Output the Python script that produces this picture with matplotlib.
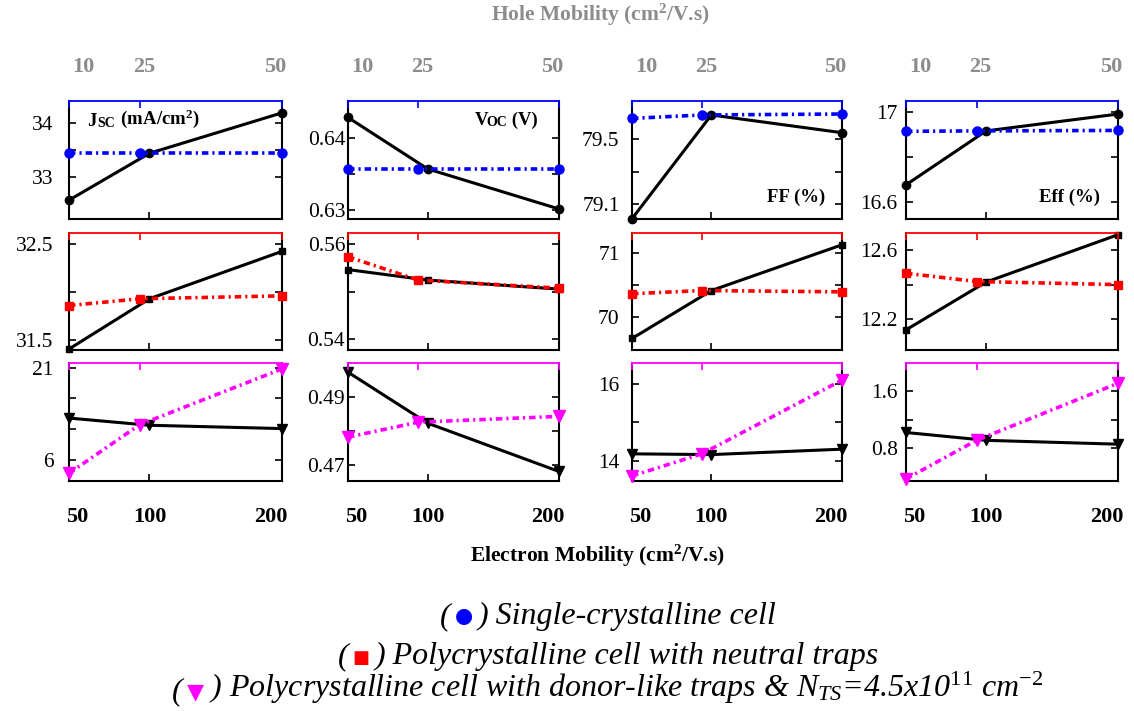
import numpy as np
import matplotlib
matplotlib.use('Agg')
import matplotlib.pyplot as plt
from matplotlib.text import Annotation
from matplotlib.transforms import ScaledTranslation

plt.rcParams['font.family'] = ['Liberation Serif', 'DejaVu Sans']
plt.rcParams['mathtext.fontset'] = 'custom'
plt.rcParams['mathtext.rm'] = 'Liberation Serif'
plt.rcParams['mathtext.it'] = 'Liberation Serif:italic'
plt.rcParams['mathtext.bf'] = 'Liberation Serif:bold'

# mobilities (cm2/V.s): electron on the bottom axis, hole on the top axis
electron_mu = [50, 100, 200]
hole_mu = [10, 25, 50]

# rows: single-crystalline, neutral traps, donor-like traps
# *_e : electron mobility varied (black), *_h : hole mobility varied (colored)
jsc_e = [[32.57, 33.44, 34.19], [31.41, 31.93, 32.42], [12.82, 11.65, 11.11]]
jsc_h = [[33.45, 33.45, 33.45], [31.86, 31.93, 31.96], [3.85, 11.76, 20.8]]
voc_e = [[0.6429, 0.6357, 0.6301], [0.5546, 0.5524, 0.5505], [0.4974, 0.4824, 0.4682]]
voc_h = [[0.6357, 0.6357, 0.6357], [0.5573, 0.5524, 0.5507], [0.4783, 0.4827, 0.4844]]
ff_e = [[79.01, 79.648, 79.539], [69.66, 70.41, 71.125], [14.19, 14.17, 14.31]]
ff_h = [[79.627, 79.648, 79.654], [70.36, 70.41, 70.39], [13.62, 14.19, 16.09]]
eff_e = [[16.676, 16.916, 16.991], [12.137, 12.415, 12.69], [1.02, 0.91, 0.856]]
eff_h = [[16.914, 16.916, 16.918], [12.466, 12.418, 12.40], [0.37, 0.91, 1.71]]

# y ticks per row / column, '' = tick without label
yticks = [
    [[33, 33.5, 34], [0.63, 0.635, 0.64], [79.1, 79.3, 79.5], [16.6, 16.8, 17]],
    [[31.5, 32, 32.5], [0.54, 0.55, 0.56], [70, 70.5, 71], [12.2, 12.4, 12.6]],
    [[6, 11, 16, 21], [0.47, 0.48, 0.49], [14, 15, 16], [0.8, 1.2, 1.6]],
]
ylabels = [
    [['33', '', '34'], ['0.63', '', '0.64'], ['79.1', '', '79.5'], ['16.6', '', '17']],
    [['31.5', '', '32.5'], ['0.54', '', '0.56'], ['70', '', '71'], ['12.2', '', '12.6']],
    [['6', '', '', '21'], ['0.47', '', '0.49'], ['14', '', '16'], ['0.8', '', '1.6']],
]
ylims = [
    [(32.22, 34.41), (0.6287, 0.6452), (79.008, 79.734), (16.524, 17.049)],
    [(31.40, 32.61), (0.5377, 0.5623), (69.48, 71.31), (12.02, 12.70)],
    [(2.6, 21.76), (0.4654, 0.5001), (13.49, 16.53), (0.34, 1.994)],
]

W, H = 1134, 711
fig = plt.figure(figsize=(W / 100, H / 100), dpi=100)

col_x = [(69, 282), (348, 559), (632, 842), (906, 1118)]
row_y = [(101, 219), (233, 350), (363, 481)]
ypad = [11, 2, 9, 6]
colors = ['#0000ff', '#ff0000', '#ff00ff']
markers = ['o', 's', 'v']
msize = [6.5, 5.5, 8]
gray = '#8c8c8c'
dashdot = (0, (1.8, 1.1, 0.6, 1.1))


def power_scale(p):
    return (lambda x: np.power(np.abs(x), p), lambda y: np.power(np.abs(y), 1.0 / p))


def shift(labels, offsets):
    for lbl, dx in zip(labels, offsets):
        lbl.set_transform(lbl.get_transform() + ScaledTranslation(dx / 72, 0, fig.dpi_scale_trans))


series = [(jsc_e, jsc_h), (voc_e, voc_h), (ff_e, ff_h), (eff_e, eff_h)]

for c, (ser_e, ser_h) in enumerate(series):
    for r in range(3):
        x0, x1 = col_x[c]
        y0, y1 = row_y[r]
        ax = fig.add_axes([x0 / W, 1 - y1 / H, (x1 - x0) / W, (y1 - y0) / H])
        ax.set_xscale('function', functions=power_scale(0.72))
        ax.set_xlim(50, 200)
        ax.set_ylim(*ylims[r][c])
        top = ax.twiny()
        top.set_xscale('function', functions=power_scale(1.24))
        top.set_xlim(10, 50)

        ax.plot(electron_mu, ser_e[r], color='black', lw=2.2, marker=markers[r],
                ms=msize[r] - 0.5, clip_on=False, zorder=3)
        top.plot(hole_mu, ser_h[r], color=colors[r], ls=dashdot, lw=2.6,
                 marker=markers[r], ms=msize[r], clip_on=False, zorder=3)

        for side in ['left', 'right', 'bottom']:
            ax.spines[side].set_linewidth(1.5)
            top.spines[side].set_visible(False)
        ax.spines['top'].set_visible(False)
        top.spines['top'].set_color(colors[r])
        top.spines['top'].set_linewidth(1.3)

        ax.set_yticks(yticks[r][c], ylabels[r][c], fontsize=15.5)
        ax.tick_params(axis='y', direction='in', left=True, right=True,
                       length=5, width=1.2, pad=ypad[c])

        ax.set_xticks(electron_mu, [str(v) for v in electron_mu],
                      fontsize=16, fontweight='bold')
        ax.tick_params(axis='x', direction='in', length=5, width=1.2,
                       labelbottom=(r == 2), pad=19)

        top.set_xticks(hole_mu, [str(v) for v in hole_mu],
                       fontsize=16, fontweight='bold')
        top.tick_params(axis='x', direction='in', length=5, width=1.2,
                        color=colors[r], labelcolor=gray, labeltop=(r == 0), pad=17)

        shift(ax.get_xticklabels(), [6, 0, -8])
        shift(top.get_xticklabels(), [10, 3, -5])


def text_row(x, y, pieces):
    # pieces are (string, (dx, dy) in points, text props), laid out left to right
    s, _, kw = pieces[0]
    t = fig.text(x / W, 1 - y / H, s, ha='left', va='baseline', **kw)
    for s, off, kw in pieces[1:]:
        t = Annotation(s, xy=(1, 0), xycoords=t, xytext=off,
                       textcoords='offset points', ha='left', va='bottom',
                       annotation_clip=False, **kw)
        fig.add_artist(t)
    return t


big = dict(fontsize=13.5, fontweight='bold')
small = dict(fontsize=10, fontweight='bold')
text_row(87, 126, [('J', None, big), ('SC', (1, 0), small), (r' (mA/cm$^{\mathbf{2}}$)', (0, 0), big)])
text_row(475, 125, [('V', None, big), ('OC', (-1.5, 0), small), (' (V)', (0, 0), big)])
text_row(767, 202, [('FF (%)', None, big)])
text_row(1039, 202, [('Eff (%)', None, big)])

fig.text(600 / W, 1 - 15 / H, r'Hole Mobility (cm$^{\mathbf{2}}$/V.s)', ha='center',
         va='center', fontsize=15.5, fontweight='bold', color=gray)
fig.text(597 / W, 1 - 556 / H, r'Electron Mobility (cm$^{\mathbf{2}}$/V.s)', ha='center',
         va='center', fontsize=15.5, fontweight='bold', color='black')

leg = dict(fontsize=23, style='italic')
sym = ['DejaVu Sans']
text_row(440, 624, [('(', None, leg),
                    ('●', (3, 3.5), dict(fontsize=15, color=colors[0], family=sym)),
                    (') Single-crystalline cell', (3.5, -3.5), leg)])
text_row(338, 664, [('(', None, leg),
                    ('■', (3, 3), dict(fontsize=13, color=colors[1], family=sym)),
                    (') Polycrystalline cell with neutral traps', (3.5, -3), leg)])
text_row(172, 699, [('(', None, leg),
                    ('▼', (3, 3), dict(fontsize=16, color=colors[2], family=sym)),
                    (r') Polycrystalline cell with donor-like traps & $N_{TS}$=4.5x10$^{\mathit{11}}$ cm$^{\mathit{-2}}$', (3.5, -3), leg)])

fig.savefig('out.png', dpi=100)
